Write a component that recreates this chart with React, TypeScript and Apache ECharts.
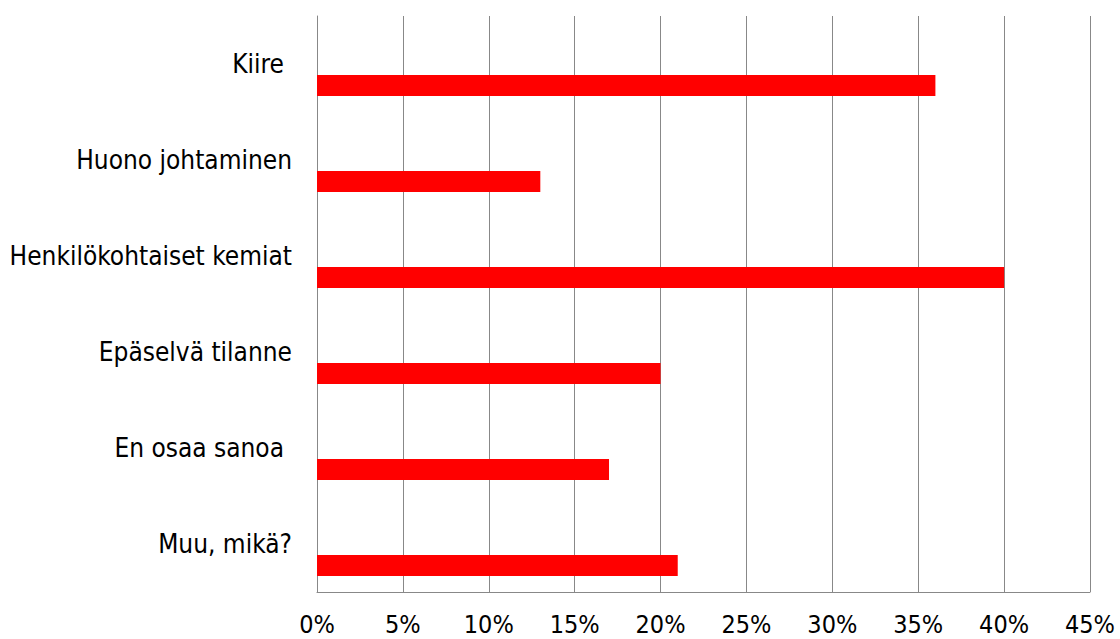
import React, { useEffect, useRef } from "react";
import * as echarts from "echarts";

const categories = [
  "Kiire",
  "Huono johtaminen",
  "Henkilökohtaiset kemiat",
  "Epäselvä tilanne",
  "En osaa sanoa",
  "Muu, mikä?",
];
const values = [36, 13, 40, 20, 17, 21];
const spacer = categories.map(() => null);
const xTicks = { min: 0, max: 45, interval: 5 };
// labels that carried a trailing space in the original
const trailingSpace = ["Kiire", "En osaa sanoa"];

const FONT = "'DejaVu Sans Condensed', 'Liberation Sans', Arial, sans-serif";

export default function App() {
  const ref = useRef<HTMLDivElement>(null);
  useEffect(() => {
    if (!ref.current) return;
    const chart = echarts.init(ref.current, undefined, { renderer: "svg" });
    chart.setOption({
      animation: false,
      backgroundColor: "#ffffff",
      grid: { left: 317, right: 30, top: 16, bottom: 47, containLabel: false },
      xAxis: {
        type: "value",
        min: xTicks.min,
        max: xTicks.max,
        interval: xTicks.interval,
        axisLine: { show: true, lineStyle: { color: "#888888", width: 1 } },
        axisTick: { show: false },
        splitLine: { show: true, lineStyle: { color: "#888888", width: 1 } },
        axisLabel: {
          formatter: "{value}%",
          color: "#000000",
          fontSize: 25,
          lineHeight: 20,
          fontFamily: FONT,
          margin: 22,
        },
      },
      yAxis: {
        type: "category",
        inverse: true,
        data: categories,
        axisLine: { show: true, lineStyle: { color: "#888888", width: 1 } },
        axisTick: { show: false },
        axisLabel: {
          color: "#000000",
          fontSize: 26,
          fontFamily: FONT,
          margin: 25,
          formatter: (v: string) =>
            trailingSpace.includes(v) ? `{s|${v}}` : `{n|${v}}`,
          rich: {
            n: { fontSize: 26, fontFamily: FONT, color: "#000000" },
            s: {
              fontSize: 26,
              fontFamily: FONT,
              color: "#000000",
              padding: [0, 8, 0, 0],
            },
          },
        },
      },
      series: [
        {
          type: "bar",
          name: "spacer",
          data: spacer,
          barWidth: 21,
          barGap: "105%",
          silent: true,
          itemStyle: { color: "transparent" },
        },
        {
          type: "bar",
          name: "Osuus",
          data: values,
          barWidth: 21,
          barGap: "105%",
          itemStyle: { color: "#ff0000" },
        },
      ],
    });
    return () => chart.dispose();
  }, []);
  return (
    <div
      ref={ref}
      style={{ position: "fixed", left: 0, top: 0, width: 1120, height: 639 }}
    />
  );
}
